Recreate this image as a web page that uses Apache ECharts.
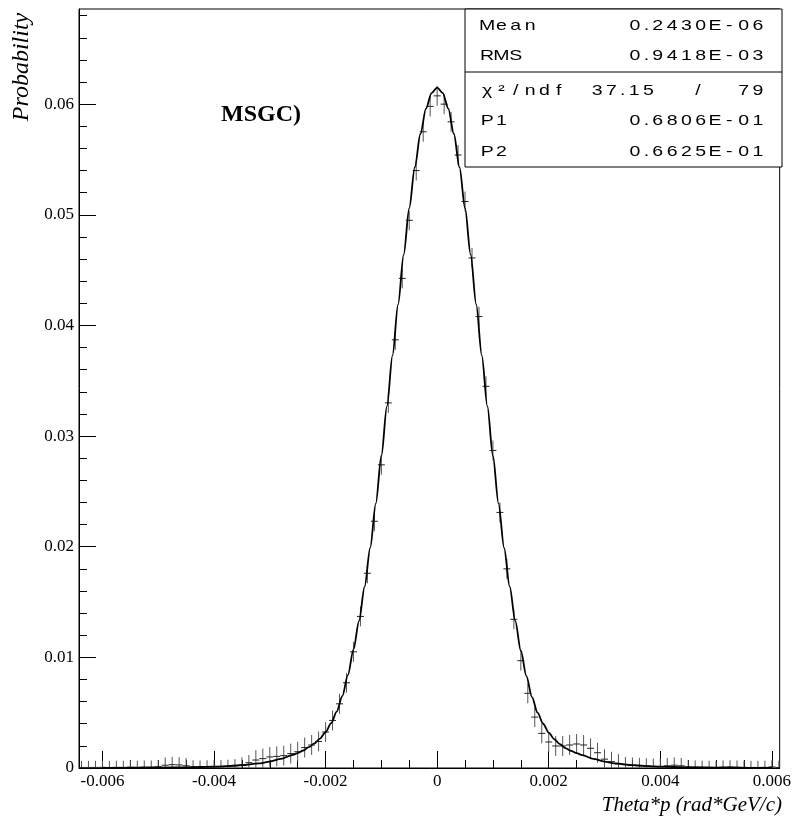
<!DOCTYPE html>
<html><head><meta charset="utf-8">
<script src="https://cdn.jsdelivr.net/npm/echarts@6/dist/echarts.min.js"></script>
<style>html,body{margin:0;padding:0;background:#fff}#c{width:794px;height:831px}</style>
</head><body><div id="c"></div>
<script>
// ---- axis ranges and ticks ----
const xMin = -0.00642, xMax = 0.00614;
const yMin = 0, yMax = 0.0686;
const xMajorTicks = [-0.006, -0.004, -0.002, 0, 0.002, 0.004, 0.006];
const xMinorTicks = [-0.006, -0.0055, -0.005, -0.0045, -0.004, -0.0035, -0.003, -0.0025, -0.002, -0.0015, -0.001, -0.0005, 0,
  0.0005, 0.001, 0.0015, 0.002, 0.0025, 0.003, 0.0035, 0.004, 0.0045, 0.005, 0.0055, 0.006];
const yMajorTicks = [0, 0.01, 0.02, 0.03, 0.04, 0.05, 0.06];
const yMinorTicks = [0.002, 0.004, 0.006, 0.008, 0.012, 0.014, 0.016, 0.018, 0.022, 0.024, 0.026, 0.028,
  0.032, 0.034, 0.036, 0.038, 0.042, 0.044, 0.046, 0.048, 0.052, 0.054, 0.056, 0.058, 0.062, 0.064, 0.066, 0.068];

// ---- histogram (bin centres start at histStart, width binWidth) ----
const histStart = -0.006375;
const binWidth = 0.000125;
const histValues = [
  0.00005,0.00005,0.00005,0.00006,0.00005,0.00006,0.00006,0.00008,0.00006,0.00008,0.00008,0.00012,
  0.00025,0.00030,0.00028,0.00020,0.00010,0.00008,0.00010,0.00010,0.00012,0.00015,0.00020,
  0.00027,0.00048,0.00072,0.00085,0.00100,0.00105,0.00112,0.00130,0.00147,0.00185,0.00208,0.00240,0.00325,0.00430,0.00580,0.00770,
  0.01050,0.01370,0.01760,0.02230,0.02740,0.03300,0.03870,0.04425,0.04950,0.05400,0.05750,0.05980,
  0.06075,
  0.06000,0.05840,0.05540,0.05120,0.04610,0.04080,0.03450,0.02870,0.02310,0.01800,0.01344,0.00970,
  0.00675,0.00460,0.00313,0.00235,0.00199,0.00199,0.00208,0.00217,0.00208,0.00178,0.00138,0.00080,0.00057,0.00036,
  0.00030,0.00025,0.00022,0.00018,0.00015,0.00012,0.00020,0.00025,0.00020,0.00010,0.00008,0.00006,0.00006,0.00005,
  0.00008,0.00010,0.00008,0.00006,0.00005,0.00005,0.00006,0.00010,0.00005
];
const histErrors = [
  0.0006,0.0006,0.0006,0.0006,0.0006,0.0006,0.0006,0.0006,0.0006,0.0006,0.0006,0.0006,
  0.0007,0.0007,0.0007,0.0007,
  0.0006,0.0006,0.0006,0.0006,0.0006,0.0006,0.0006,
  0.0007,0.0007,
  0.0009,0.0009,0.0009,0.0009,0.0009,0.0009,0.0009,0.0009,0.0009,0.0009,0.0009,0.0009,0.0009,0.0009,0.0009,0.0009,0.0009,0.0009,
  0.0009,0.0009,0.0009,0.0009,0.0009,0.0009,0.0009,0.0009,0.0009,0.0009,0.0009,0.0009,0.0009,0.0009,0.0009,0.0009,0.0009,0.0009,
  0.0009,0.0009,0.0009,0.0009,0.0009,0.0009,0.0009,0.0009,0.0009,0.0009,0.0009,0.0009,0.0009,0.0009,0.0009,0.0009,0.0009,
  0.0007,0.0007,0.0007,0.0007,0.0007,0.0007,0.0007,0.0007,0.0007,
  0.0006,0.0006,0.0006,0.0006,0.0006,0.0006,0.0006,0.0006,0.0006,0.0006,0.0006,0.0006,0.0006,0.0006
];

// ---- fitted curve ----
const fitX = [-0.006,-0.0055,-0.005,-0.0045,-0.004,-0.0037,-0.0035,-0.0032,-0.003,-0.0028,
  -0.0026,-0.0025,-0.0024,-0.0023,-0.0022,-0.0021,-0.002,-0.0019,-0.0018,-0.0017,-0.0016,-0.0015,-0.0014,-0.0013,
  -0.0012,-0.0011,-0.001,-0.0009,-0.0008,-0.0007,-0.0006,-0.0005,-0.0004,-0.0003,-0.0002,-0.0001,
  0,
  0.0001,0.0002,0.0003,0.0004,0.0005,0.0006,0.0007,0.0008,0.0009,0.001,0.0011,0.0012,0.0013,0.0014,0.0015,
  0.0016,0.0017,0.0018,0.0019,0.002,0.0021,0.0022,0.0023,0.0024,0.0025,0.0026,
  0.0028,0.003,0.0032,0.0035,0.0037,0.004,0.0045,0.005,0.0055,0.006];
const fitY = [0.00001,0.00002,0.00003,0.00006,0.00012,0.00019,0.00026,0.00041,0.00058,0.00083,
  0.00116,0.00135,0.00158,0.00188,0.00222,0.00266,0.00325,0.00405,0.0051,0.0065,0.0084,0.0107,0.0133,0.0164,
  0.0199,0.0239,0.0282,0.0327,0.0373,0.0419,0.0464,0.0506,0.0543,0.0573,0.0596,0.0610,
  0.0615,
  0.0610,0.0596,0.0573,0.0543,0.0506,0.0464,0.0419,0.0373,0.0327,0.0282,0.0239,0.0199,0.0164,0.0133,0.0106,
  0.0083,0.0064,0.0050,0.0040,0.0032,0.0026,0.00215,0.0018,0.00155,0.00135,0.00116,
  0.00083,0.00058,0.00041,0.00026,0.00019,0.00012,0.00006,0.00003,0.00002,0.00001];

// ---- texts ----
const xTitle = 'Theta*p (rad*GeV/c)';
const yTitle = 'Probability';
const plotLabel = 'MSGC)';
const statNames = ['Mean', 'RMS', 'χ²/ndf', 'P1', 'P2'];
const statNumbers = ['0.2430E-06', '0.9418E-03', null, '0.6806E-01', '0.6625E-01'];
const chiParts = ['37.15', '/', '79'];

const serif = '"Liberation Serif","Times New Roman",serif';
const statFontCss = '15px "Liberation Sans","DejaVu Sans",sans-serif';
const statScaleX = 1.3;

function cells(s) {
  return s.split('').map(ch => '{' + (ch === '.' ? 'd' : 'c') + '|' + ch + '}').join('');
}
const cellRich = {
  c: {width: 11, align: 'center', font: statFontCss, fill: '#000'},
  d: {width: 6.5, align: 'center', font: statFontCss, fill: '#000'}
};

const histData = histValues.map((v, i) => [histStart + i * binWidth, v, histErrors[i]]);
const fitData = fitX.map((x, i) => [x, fitY[i]]);

const chart = echarts.init(document.getElementById('c'), null, {renderer: 'canvas'});

const rowY = [26, 56, 91, 121, 152];
const statGraphics = [];
statGraphics.push({type: 'rect', shape: {x: 465, y: 9, width: 317, height: 158}, style: {fill: '#fff', stroke: '#000', lineWidth: 1}, z: 100});
statGraphics.push({type: 'line', shape: {x1: 465, y1: 72, x2: 782, y2: 72}, style: {stroke: '#000', lineWidth: 1}, z: 101});
function statText(x, y, s, align) {
  return {type: 'text', x: x, y: y, scaleX: statScaleX, z: 102,
    style: {text: cells(s), rich: cellRich, font: statFontCss, fill: '#000',
      textAlign: align, textVerticalAlign: 'middle', align: align, verticalAlign: 'middle'}};
}
statNames.forEach((n, i) => {
  statGraphics.push(statText(480, rowY[i], n, 'left'));
  if (statNumbers[i]) statGraphics.push(statText(765, rowY[i], statNumbers[i], 'right'));
});
statGraphics.push(statText(590, rowY[2], chiParts[0], 'left'));
statGraphics.push(statText(698, rowY[2], chiParts[1], 'center'));
statGraphics.push(statText(765, rowY[2], chiParts[2], 'right'));

const option = {
  animation: false,
  backgroundColor: '#fff',
  grid: {left: 79, right: 12, top: 9, bottom: 63, show: true, borderColor: '#000', borderWidth: 1, containLabel: false},
  xAxis: [
    {type: 'value', min: xMin, max: xMax, position: 'bottom',
     axisLine: {show: true, onZero: false, lineStyle: {color: '#000', width: 1}},
     axisTick: {show: true, inside: true, length: 17, customValues: xMajorTicks, lineStyle: {color: '#000', width: 1}},
     axisLabel: {show: true, customValues: xMajorTicks, margin: 5, fontFamily: serif, fontSize: 17, color: '#000',
       formatter: v => (Math.abs(v) < 1e-12 ? '0' : String(+(+v).toFixed(4)))},
     splitLine: {show: false}, minorTick: {show: false}},
    {type: 'value', min: xMin, max: xMax, position: 'bottom',
     axisLine: {show: false, onZero: false},
     axisTick: {show: true, inside: true, length: 8, customValues: xMinorTicks, lineStyle: {color: '#000', width: 1}},
     axisLabel: {show: false}, splitLine: {show: false}}
  ],
  yAxis: [
    {type: 'value', min: yMin, max: yMax, position: 'left',
     axisLine: {show: true, onZero: false, lineStyle: {color: '#000', width: 1}},
     axisTick: {show: true, inside: true, length: 17, customValues: yMajorTicks, lineStyle: {color: '#000', width: 1}},
     axisLabel: {show: true, customValues: yMajorTicks, margin: 5, fontFamily: serif, fontSize: 17, color: '#000',
       formatter: v => (Math.abs(v) < 1e-12 ? '0' : String(+(+v).toFixed(3)))},
     splitLine: {show: false}},
    {type: 'value', min: yMin, max: yMax, position: 'left',
     axisLine: {show: false, onZero: false},
     axisTick: {show: true, inside: true, length: 8, customValues: yMinorTicks, lineStyle: {color: '#000', width: 1}},
     axisLabel: {show: false}, splitLine: {show: false}}
  ],
  series: [
    {type: 'custom', name: 'hist', xAxisIndex: 0, yAxisIndex: 0, clip: true, z: 2,
     data: histData,
     renderItem: function (params, api) {
       const x = api.value(0), y = api.value(1), e = api.value(2);
       const c = api.coord([x, y]);
       const l = api.coord([x - binWidth / 2, y]);
       const r = api.coord([x + binWidth / 2, y]);
       const t = api.coord([x, y + e]);
       const b = api.coord([x, Math.max(0, y - e)]);
       return {type: 'group', children: [
         {type: 'line', shape: {x1: t[0], y1: t[1], x2: b[0], y2: b[1]}, style: {stroke: '#555', lineWidth: 1}},
         {type: 'line', shape: {x1: l[0], y1: c[1], x2: r[0], y2: c[1]}, style: {stroke: '#222', lineWidth: 1}}
       ]};
     }},
    {type: 'line', name: 'fit', xAxisIndex: 0, yAxisIndex: 0, data: fitData, showSymbol: false, symbol: 'none',
     smooth: 0.3, smoothMonotone: 'x', z: 5, clip: true,
     lineStyle: {color: '#000', width: 1.8}}
  ],
  graphic: [
    {type: 'text', x: 22, y: 67, rotation: Math.PI / 2, z: 50,
     style: {text: yTitle, font: 'italic 24px ' + serif, fill: '#000', textAlign: 'center', textVerticalAlign: 'middle', align: 'center', verticalAlign: 'middle'}},
    {type: 'text', x: 782, y: 805, z: 50,
     style: {text: xTitle, font: 'italic 21px ' + serif, fill: '#000', textAlign: 'right', textVerticalAlign: 'middle', align: 'right', verticalAlign: 'middle'}},
    {type: 'text', x: 221, y: 115, z: 50,
     style: {text: plotLabel, font: 'bold 24px ' + serif, fill: '#000', textAlign: 'left', textVerticalAlign: 'middle', align: 'left', verticalAlign: 'middle'}}
  ].concat(statGraphics)
};
chart.setOption(option);
</script>
</body></html>
